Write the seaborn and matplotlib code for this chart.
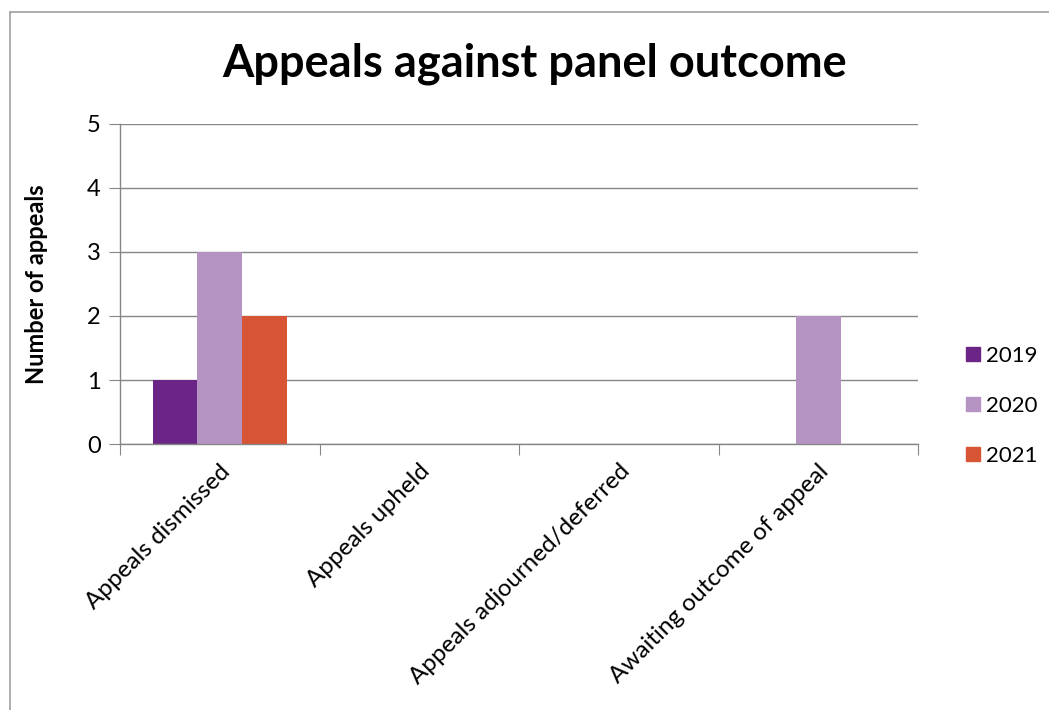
import pandas as pd
import matplotlib
matplotlib.use('Agg')
import matplotlib.pyplot as plt
import seaborn as sns
from matplotlib.lines import Line2D

# data
categories = ['Appeals dismissed', 'Appeals upheld',
              'Appeals adjourned/deferred', 'Awaiting outcome of appeal']
years = ['2019', '2020', '2021']
vals_2019 = [1, 0, 0, 0]
vals_2020 = [3, 0, 0, 2]
vals_2021 = [2, 0, 0, 0]
colors = ['#6A2586', '#B593C3', '#D75534']

df = pd.DataFrame({
    'category': categories * 3,
    'year': [y for y in years for _ in categories],
    'count': vals_2019 + vals_2020 + vals_2021,
})

sns.set_style('white')
plt.rcParams['font.family'] = ['Lato', 'DejaVu Sans']
plt.rcParams['text.color'] = 'black'
plt.rcParams['axes.labelcolor'] = 'black'
plt.rcParams['xtick.color'] = 'black'
plt.rcParams['ytick.color'] = 'black'

fig = plt.figure(figsize=(10.49, 7.10), dpi=100)
ax = fig.add_axes([120 / 1049, 1 - 444 / 710, (918 - 120) / 1049, (444 - 124) / 710])

sns.barplot(data=df, x='category', y='count', hue='year', palette=colors,
            width=0.67, saturation=1, linewidth=0, ax=ax, legend=False)

ax.set_ylim(0, 5)
ax.set_xlim(-0.5, 3.5)
ax.set_yticks(range(6))
ax.yaxis.grid(True, color='#868686', linewidth=1)
ax.set_axisbelow(True)
for s in ['top', 'right']:
    ax.spines[s].set_visible(False)
for s in ['left', 'bottom']:
    ax.spines[s].set_color('#868686')
    ax.spines[s].set_linewidth(1)

# x ticks at category boundaries (marks), labels at centres
ax.set_xticks([i + 0.5 for i in range(-1, 4)], minor=False)
ax.set_xticklabels([])
ax.set_xticks(range(len(categories)), minor=True)
ax.set_xticklabels(categories, minor=True, rotation=45, ha='right',
                   rotation_mode='anchor', fontsize=17.5)
ax.tick_params(axis='x', which='major', direction='out', length=8,
               color='#868686', bottom=True)
ax.tick_params(axis='x', which='minor', length=0, pad=12)
ax.tick_params(axis='y', direction='out', length=8, color='#868686',
               labelsize=17, left=True, pad=6)

ax.set_xlabel('')
ax.set_ylabel('Number of appeals', fontsize=17, fontweight='bold', labelpad=28)

fig.text(535 / 1049, 1 - 64 / 710, 'Appeals against panel outcome', ha='center',
         va='center', fontsize=32.5, fontweight='bold')

handles = [Line2D([], [], marker='s', linestyle='', markersize=10,
                  markerfacecolor=c, markeredgecolor=c) for c in colors]
fig.legend(handles, years, loc='center left',
           bbox_to_anchor=(953 / 1049, 1 - 406 / 710), frameon=False,
           fontsize=16, handlelength=0.8, handletextpad=0.2,
           labelspacing=1.35, borderpad=0)

# outer chart border
fig.add_artist(Line2D([10 / 1049, 10 / 1049], [0, 1 - 12 / 710],
                      transform=fig.transFigure, color='#A0A0A0', linewidth=1.2))
fig.add_artist(Line2D([10 / 1049, 1], [1 - 12 / 710, 1 - 12 / 710],
                      transform=fig.transFigure, color='#A0A0A0', linewidth=1.2))

fig.savefig('out.png', dpi=100)
